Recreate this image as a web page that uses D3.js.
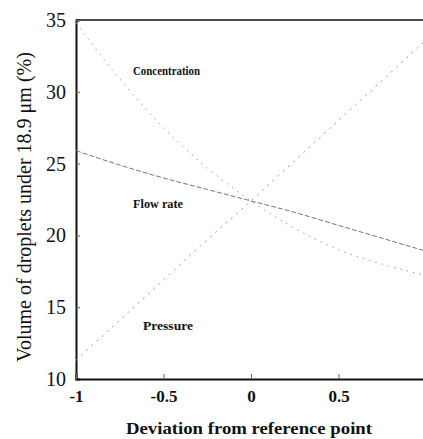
<!DOCTYPE html>
<html><head><meta charset="utf-8">
<script src="https://cdn.jsdelivr.net/npm/d3@7"></script>
<style>body{margin:0;background:#fff}svg{display:block}</style>
</head><body><svg id="c" width="423" height="439"></svg>
<script>
const xs = [-1, -0.75, -0.5, -0.25, 0, 0.25, 0.5, 0.75, 1];
const concentration = [34.8, 30.9, 27.5, 24.7, 22.4, 20.5, 19.0, 18.0, 17.2];
const flowRate = [25.9, 24.9, 24.0, 23.2, 22.4, 21.6, 20.7, 19.8, 18.9];
const pressure = [11.3, 14.1, 16.9, 19.7, 22.4, 25.2, 28.0, 30.8, 33.6];
const xTicks = [-1, -0.5, 0, 0.5];
const xTickLabels = ["-1", "-0.5", "0", "0.5"];
const yTicks = [10, 15, 20, 25, 30, 35];
const seriesNames = ["Concentration", "Flow rate", "Pressure"];

const svg = d3.select("#c");
const x = d3.scaleLinear().domain([-1, 1]).range([76, 426]);
const y = d3.scaleLinear().domain([10, 35]).range([379, 20]);
const serif = "'Liberation Serif','Times New Roman',serif";

const g = svg.append("g");
g.append("line").attr("x1", x(-1)).attr("x2", x(1)).attr("y1", y(35)).attr("y2", y(35))
  .attr("stroke", "#111").attr("stroke-width", 1.5);

const yAxis = d3.axisLeft(y).tickValues(yTicks).tickSize(-4).tickPadding(10).tickFormat(d3.format("d"));
const ya = g.append("g").attr("transform", `translate(${x(-1)},0)`).call(yAxis);
ya.select(".domain").attr("stroke", "#111").attr("stroke-width", 2);
ya.selectAll(".tick line").attr("stroke", "#666");
ya.selectAll(".tick text").attr("font-family", serif).attr("font-size", 20).attr("fill", "#111");

const xAxis = d3.axisBottom(x).tickValues(xTicks).tickSize(-5).tickPadding(11)
  .tickFormat((d, i) => xTickLabels[i]);
const xa = g.append("g").attr("transform", `translate(0,${y(10)})`).call(xAxis);
xa.select(".domain").attr("stroke", "#111").attr("stroke-width", 2);
xa.selectAll(".tick line").attr("stroke", "#666");
xa.selectAll(".tick text").attr("font-family", serif).attr("font-size", 17).attr("font-weight", "bold").attr("fill", "#111");

const line = d3.line().x((d, i) => x(xs[i])).y(d => y(d)).curve(d3.curveMonotoneX);
const series = [
  {v: concentration, dash: "1.5,5", col: "#999"},
  {v: flowRate, dash: "5,2", col: "#777"},
  {v: pressure, dash: "2,5", col: "#999"}
];
series.forEach(s => {
  g.append("path").attr("d", line(s.v)).attr("fill", "none")
    .attr("stroke", s.col).attr("stroke-width", 1).attr("stroke-dasharray", s.dash);
});

const labelPos = [[133, 75, 67, 12.5], [133, 208, 50, 13], [143, 330, 50, 13]];
seriesNames.forEach((n, i) => {
  const p = labelPos[i];
  g.append("text").text(n).attr("x", p[0]).attr("y", p[1])
    .attr("font-family", serif).attr("font-size", p[3]).attr("font-weight", "bold")
    .attr("textLength", p[2]).attr("lengthAdjust", "spacingAndGlyphs").attr("fill", "#111");
});

svg.append("text").text("Volume of droplets under 18.9 \u03bcm (%)")
  .attr("transform", "translate(31,207) rotate(-90)").attr("text-anchor", "middle")
  .attr("font-family", serif).attr("font-size", 20).attr("fill", "#111");
svg.append("text").text("Deviation from reference point")
  .attr("x", 249).attr("y", 434).attr("text-anchor", "middle")
  .attr("font-family", serif).attr("font-size", 16).attr("font-weight", "bold")
  .attr("textLength", 246).attr("lengthAdjust", "spacingAndGlyphs").attr("fill", "#111");
</script></body></html>
